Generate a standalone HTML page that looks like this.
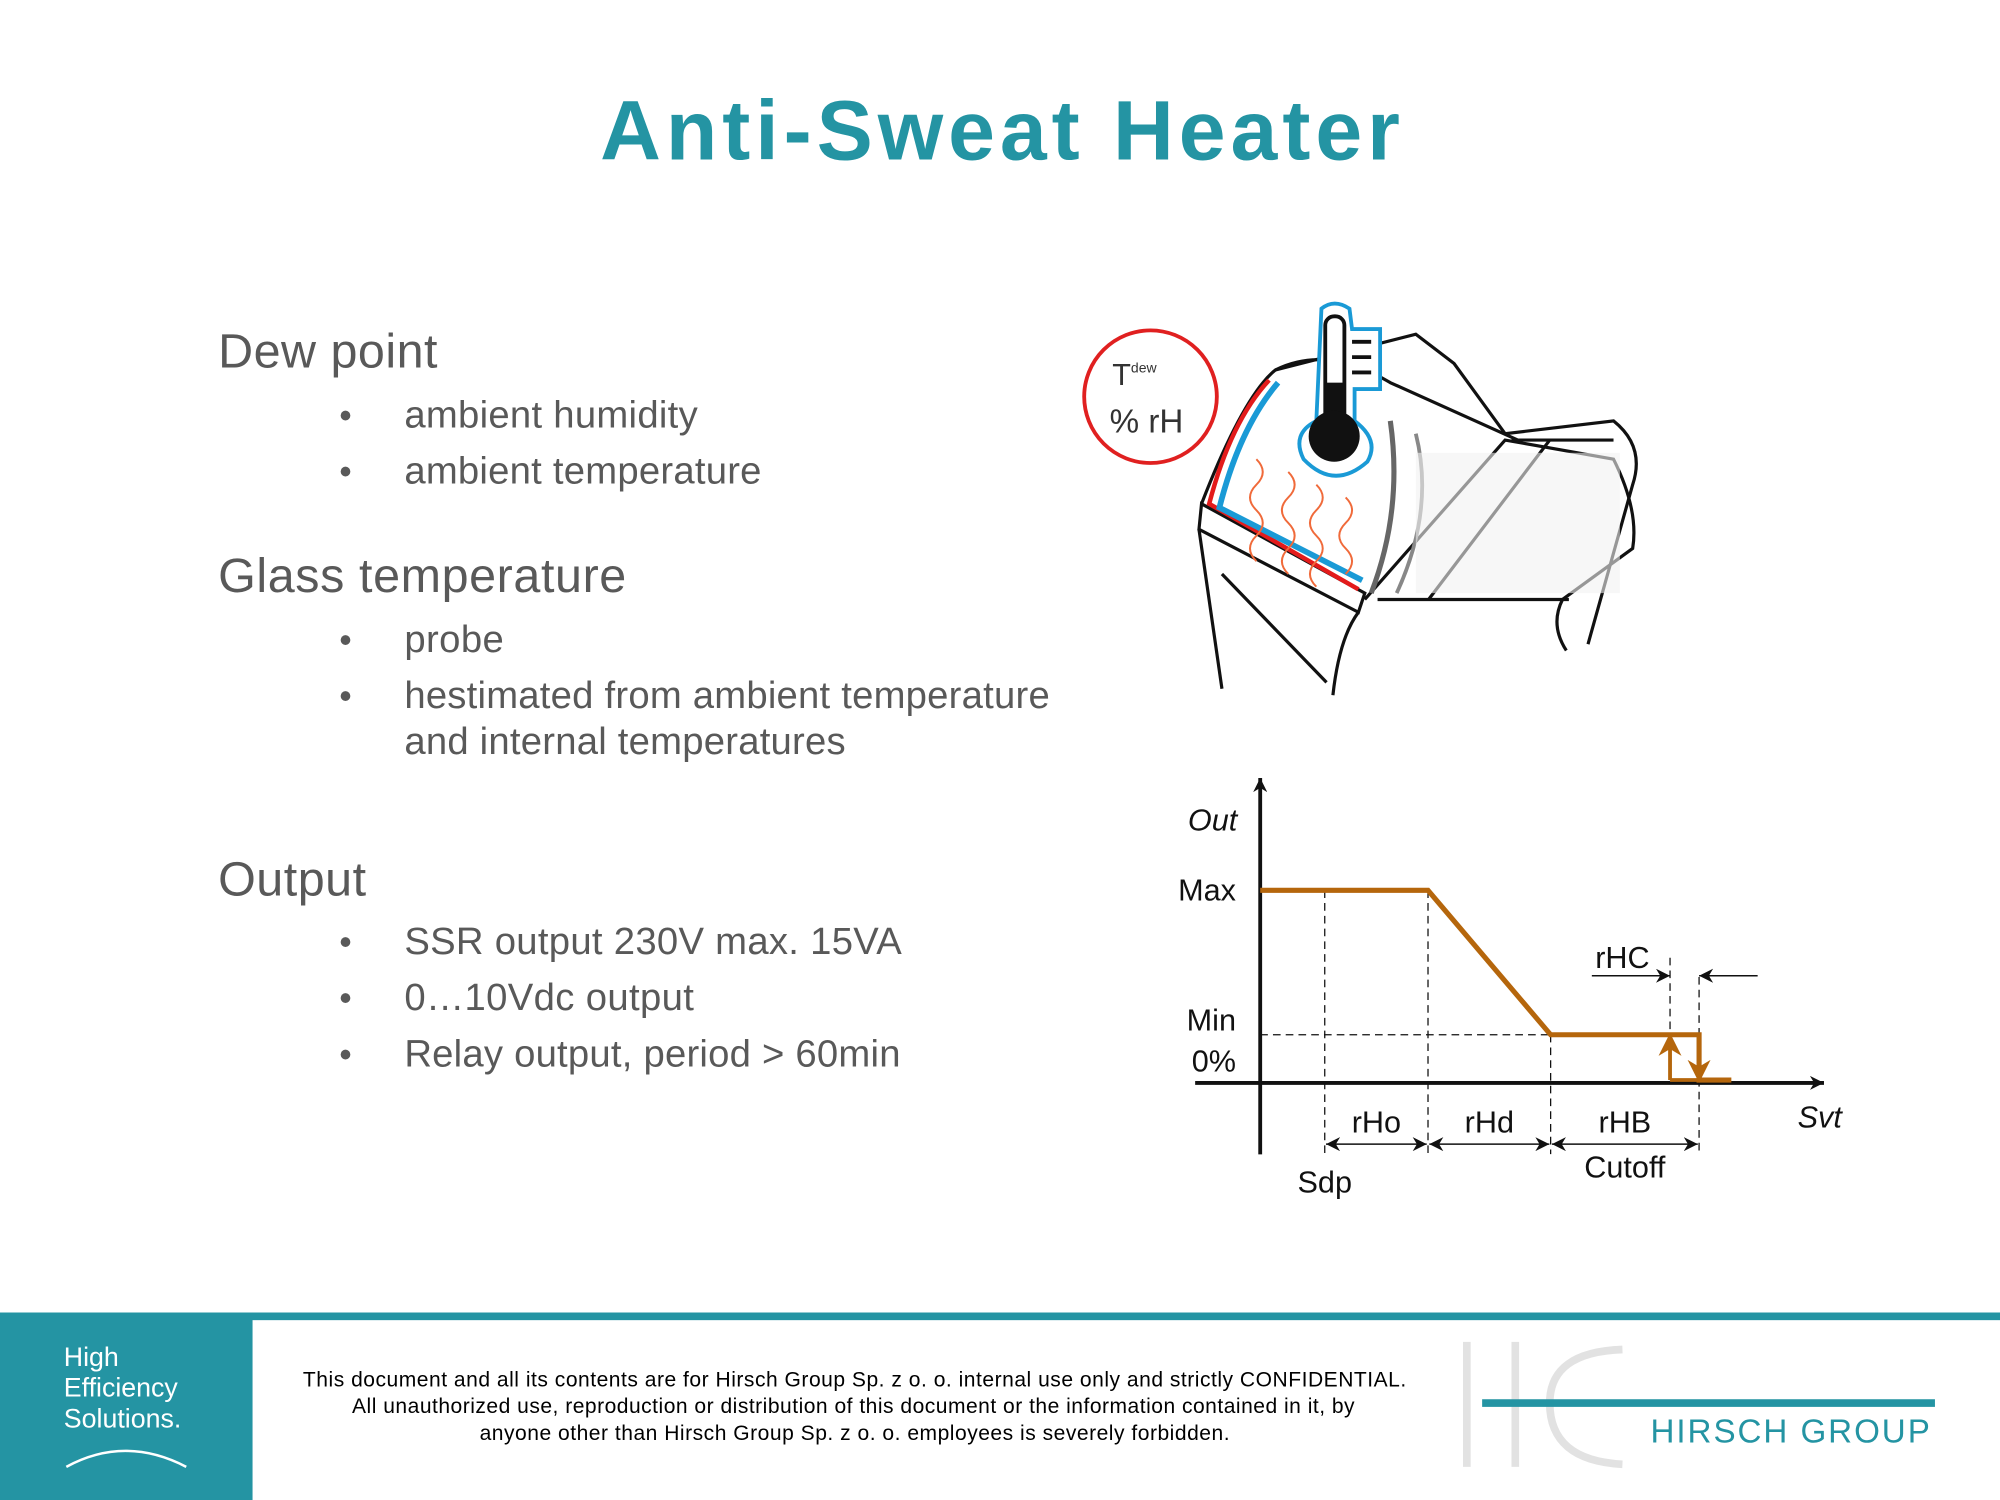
<!DOCTYPE html>
<html><head><meta charset="utf-8"><style>
html,body{margin:0;padding:0;background:#fff;}
svg{display:block;}
text{font-family:"Liberation Sans",sans-serif;}
</style></head><body>
<svg id="page" width="2000" height="1500" viewBox="0 0 1568 1176">
<text x="784" y="125" text-anchor="middle" font-size="66" font-weight="bold" fill="#2494a3" textLength="627">Anti-Sweat Heater</text>

<g fill="#595959">
<text x="171" y="288" font-size="38" textLength="172">Dew point</text>
<text x="266" y="335" font-size="28">•</text>
<text x="317" y="335" font-size="30" textLength="230">ambient humidity</text>
<text x="266" y="379" font-size="28">•</text>
<text x="317" y="379" font-size="30" textLength="280">ambient temperature</text>
<text x="171" y="464" font-size="38" textLength="320">Glass temperature</text>
<text x="266" y="511" font-size="28">•</text>
<text x="317" y="511" font-size="30" textLength="78">probe</text>
<text x="266" y="555" font-size="28">•</text>
<text x="317" y="555" font-size="30" textLength="506">hestimated from ambient temperature</text>
<text x="317" y="591" font-size="30" textLength="346">and internal temperatures</text>
<text x="171" y="702" font-size="38" textLength="116">Output</text>
<text x="266" y="748" font-size="28">•</text>
<text x="317" y="748" font-size="30" textLength="390">SSR output 230V max. 15VA</text>
<text x="266" y="792" font-size="28">•</text>
<text x="317" y="792" font-size="30" textLength="227">0…10Vdc output</text>
<text x="266" y="836" font-size="28">•</text>
<text x="317" y="836" font-size="30" textLength="389">Relay output, period &gt; 60min</text>
</g>

<!-- illustration -->
<g fill="none" stroke="#111" stroke-width="2.5">
<path d="M942 395 Q975 310 1000 290 L1110 262 L1140 285 L1180 340 L1265 330 Q1290 350 1280 380 L1245 505" />
<path d="M1000 290 Q1040 270 1090 300 L1190 345" />
<path d="M942 395 L940 415 L1065 480 L1070 465 Z" fill="#fff"/>
<path d="M940 415 L958 540" />
<path d="M958 450 L1040 535" />
<path d="M1065 480 Q1050 500 1045 545" />
<path d="M1070 470 L1180 345 L1265 360 Q1285 400 1280 430 L1225 470 Q1215 490 1228 510" />
<path d="M1080 470 L1230 470" />
<path d="M1090 330 Q1100 400 1075 465" stroke="#666" stroke-width="4"/>
<path d="M1110 340 Q1125 400 1095 465" stroke="#888" stroke-width="3"/>
<path d="M1120 470 L1215 345 M1185 345 L1265 345" />
<rect x="1110" y="355" width="160" height="110" fill="#f2f2f2" stroke="none" opacity="0.6"/>
<path d="M995 298 Q965 330 948 395 L1065 462" stroke="#e31b1b" stroke-width="3.5"/>
<path d="M1002 300 Q972 335 956 398 L1068 455" stroke="#1a9ad6" stroke-width="4.5"/>
<g stroke="#f06a3a" stroke-width="1.5">
<path d="M985 360 q10 10 0 20 q-10 10 0 20 q10 10 0 20 q-10 10 0 20"/>
<path d="M1010 370 q10 10 0 20 q-10 10 0 20 q10 10 0 20 q-10 10 0 20"/>
<path d="M1032 380 q10 10 0 20 q-10 10 0 20 q10 10 0 20 q-10 10 0 20"/>
<path d="M1055 390 q10 10 0 20 q-10 10 0 20 q10 10 0 20"/>
</g>
<circle cx="902" cy="311" r="52" stroke="#e02020" stroke-width="3" fill="#fff"/>
<path d="M1036 242 Q1046 234 1058 242 L1060 258 L1082 258 L1082 305 L1062 305 L1062 330 Q1082 345 1072 362 Q1046 385 1022 360 Q1012 340 1032 330 Z" fill="#fff" stroke="#1a9ad6" stroke-width="3"/>
<rect x="1039" y="248" width="15" height="90" rx="7" fill="#fff" stroke="#111" stroke-width="3"/>
<rect x="1039" y="300" width="15" height="40" fill="#111" stroke="none"/>
<circle cx="1046" cy="342" r="20" fill="#111" stroke="none"/>
<path d="M1060 268 H1075 M1060 280 H1075 M1060 292 H1075" stroke-width="3"/>
</g>
<text x="872" y="302" font-size="24" fill="#333">T<tspan font-size="11" dy="-10">dew</tspan></text>
<text x="870" y="339" font-size="26" fill="#333">% rH</text>

<g id="chart"></g>

<!-- footer -->
<rect x="0" y="1029" width="1568" height="6" fill="#2494a3"/>
<rect x="0" y="1029" width="198" height="147" fill="#2494a3"/>
<g fill="#fff" font-size="22">
<text x="50" y="1071" font-size="21">High</text>
<text x="50" y="1095" font-size="21">Efficiency</text>
<text x="50" y="1119" font-size="21">Solutions.</text>
</g>
<path d="M52 1150 Q98 1125 146 1150" stroke="#fff" stroke-width="2" fill="none"/>
<g fill="#000" font-size="16.5" text-anchor="middle">
<text x="670" y="1087" textLength="865">This document and all its contents are for Hirsch Group Sp. z o. o. internal use only and strictly CONFIDENTIAL.</text>
<text x="669" y="1108" textLength="786">All unauthorized use, reproduction or distribution of this document or the information contained in it, by</text>
<text x="670" y="1129" textLength="588">anyone other than Hirsch Group Sp. z o. o. employees is severely forbidden.</text>
</g>
<g>
<path d="M1150 1052 V1150 M1188 1052 V1150 M1272 1058 Q1215 1060 1215 1100 Q1215 1145 1272 1148" stroke="#e2e2e2" stroke-width="6" fill="none"/>
<rect x="1162" y="1097" width="355" height="6" fill="#2494a3"/>
<text x="1294" y="1131" font-size="26" fill="#2494a3" letter-spacing="3" textLength="222">HIRSCH GROUP</text>
</g>
</svg>
<script>
// chart data (parameter positions along Svt axis, output levels)
const paramNames = ["Sdp", "rHo", "rHd", "rHB", "rHC"];
const paramValues = [1.0, 1.6, 1.9, 2.3, 0.45];
const levelNames = ["0%", "Min", "Max"];
const levelValues = [0, 25, 100];
const NS = "http://www.w3.org/2000/svg";
const g = document.getElementById("chart");
const X0 = 988, Y0 = 849;
const xs = v => X0 + v * 50.6;
const ys = v => Y0 - v * 1.51;
function el(tag, attrs, parent) {
  const e = document.createElementNS(NS, tag);
  for (const k in attrs) e.setAttribute(k, attrs[k]);
  (parent || g).appendChild(e);
  return e;
}
const sdp = paramValues[0];
const xA = sdp + paramValues[1], xB = xA + paramValues[2], xC = xB + paramValues[3], xD = xC - paramValues[4];
const yMax = levelValues[2], yMin = levelValues[1], yZero = levelValues[0];
const defs = el("defs", {});
const mk = el("marker", {id: "ah", viewBox: "0 0 10 10", refX: "10", refY: "5", markerWidth: "11", markerHeight: "11", orient: "auto-start-reverse", markerUnits: "userSpaceOnUse"}, defs);
el("path", {d: "M0 0 L10 5 L0 10 L3 5 Z", fill: "#111"}, mk);
const mk2 = el("marker", {id: "ob", viewBox: "0 0 10 10", refX: "5", refY: "5", markerWidth: "18", markerHeight: "18", orient: "auto", markerUnits: "userSpaceOnUse"}, defs);
el("path", {d: "M0 0 L10 5 L0 10 L3 5 Z", fill: "#b5660c"}, mk2);
const dash = {stroke: "#111", "stroke-width": 1, "stroke-dasharray": "6 4", fill: "none"};
const gl = [[sdp, yMax, -37], [xA, yMax, -37], [xB, yMin, -37], [xD, yZero + 65, yZero], [xC, yZero + 55, -37]];
gl.forEach(d => {
  const l = el("line", Object.assign({x1: xs(d[0]), x2: xs(d[0]), y1: ys(d[1]), y2: ys(d[2])}, dash));
  
  
});
const hm = el("line", Object.assign({x1: X0, x2: xs(xB), y1: ys(yMin), y2: ys(yMin)}, dash));


const ax = el("line", {x1: 937, y1: Y0, x2: 1430, y2: Y0, stroke: "#111", "stroke-width": 3, "marker-end": "url(#ah)"});


const ay = el("line", {x1: X0, y1: 905, x2: X0, y2: 610, stroke: "#111", "stroke-width": 3, "marker-end": "url(#ah)"});


const pts = [[0, yMax], [xA, yMax], [xB, yMin], [xC, yMin], [xC, yZero + 1.5], [xC + 0.5, yZero + 1.5]];
const curve = el("polyline", {points: pts.map(p => xs(p[0]) + "," + ys(p[1])).join(" "), fill: "none", stroke: "#b5660c", "stroke-width": 4});


const up = el("polyline", {points: [xs(xD)+","+ys(yZero+1.5), xs(xD)+","+ys(yMin-5)].join(" "), fill: "none", stroke: "#b5660c", "stroke-width": 3, "marker-end": "url(#ob)"});


const base = el("line", {x1: xs(xD), x2: xs(xC), y1: ys(yZero + 1.5), y2: ys(yZero + 1.5), stroke: "#b5660c", "stroke-width": 3});


const dn = el("line", {x1: xs(xC), x2: xs(xC), y1: ys(yMin - 3), y2: ys(yZero + 6), stroke: "none", "marker-end": "url(#ob)"});


const dims = [[sdp, xA], [xA, xB], [xB, xC]];
dims.forEach(d => {
  const a = el("line", {x1: xs(d[0]) + 1, x2: xs(d[1]) - 1, y1: 897, y2: 897, stroke: "#111", "stroke-width": 1.2, "marker-start": "url(#ah)", "marker-end": "url(#ah)"});
  
  
});
const r1 = el("line", {x1: 1248, x2: xs(xD), y1: 765, y2: 765, stroke: "#111", "stroke-width": 1.2, "marker-end": "url(#ah)"});


const r2 = el("line", {x1: 1378, x2: xs(xC), y1: 765, y2: 765, stroke: "#111", "stroke-width": 1.2, "marker-end": "url(#ah)"});


function lab(txt, x, y, anchor, italic, name) {
  const t = el("text", {x: x, y: y, "text-anchor": anchor, "font-size": 24, fill: "#111", "font-family": "'DejaVu Sans Condensed','Liberation Sans',sans-serif"});
  if (italic) t.setAttribute("font-style", "italic");
  t.textContent = txt;
  
  
}
lab("Out", 970, 651, "end", true, "y-axis-title");
lab("Svt", 1444, 884, "end", true, "x-axis-title");
lab(levelNames[2], 969, 706, "end", false, "max-label");
lab(levelNames[1], 969, 808, "end", false, "min-label");
lab(levelNames[0], 969, 840, "end", false, "zero-label");
lab(paramNames[0], xs(sdp), 935, "middle", false, "sdp-label");
lab(paramNames[1], (xs(sdp) + xs(xA)) / 2, 888, "middle", false, "rho-label");
lab(paramNames[2], (xs(xA) + xs(xB)) / 2, 888, "middle", false, "rhd-label");
lab(paramNames[3], (xs(xB) + xs(xC)) / 2, 888, "middle", false, "rhb-label");
lab("Cutoff", (xs(xB) + xs(xC)) / 2, 923, "middle", false, "cutoff-label");
lab(paramNames[4], 1272, 759, "middle", false, "rhc-label");
</script>
</body></html>
